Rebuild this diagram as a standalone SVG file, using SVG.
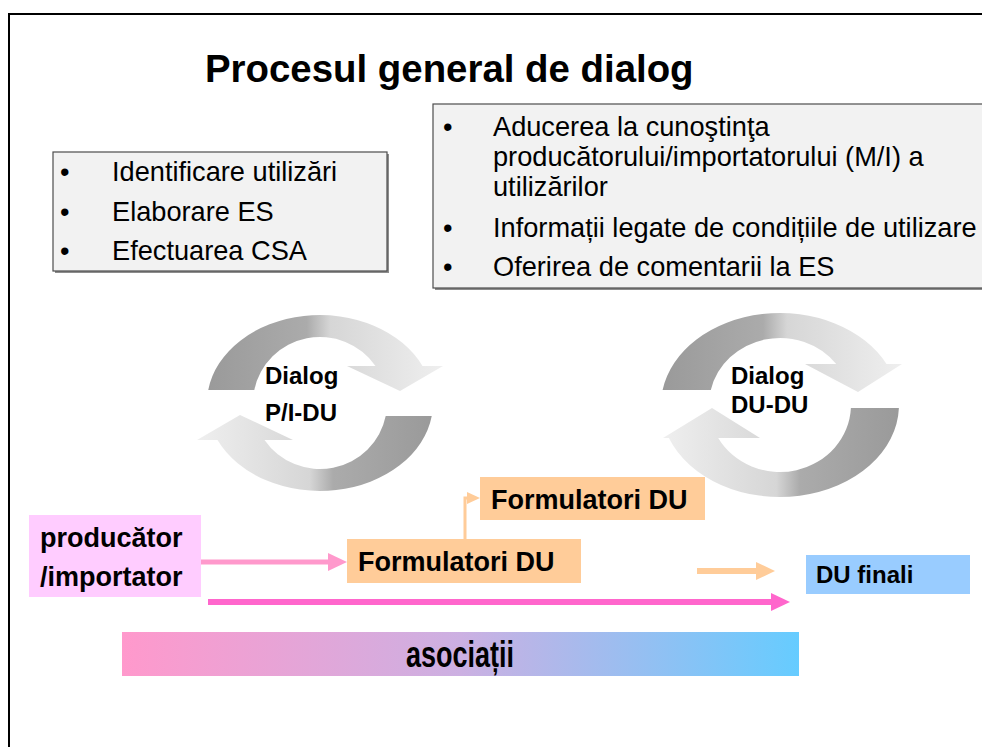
<svg xmlns="http://www.w3.org/2000/svg" width="982" height="747" viewBox="0 0 982 747">
  <defs>
    <style>
      .txt { font-family: "Liberation Sans", Arial, sans-serif; fill: #000; }
      .bold { font-weight: bold; }
      .bullet-box { fill: #f2f2f2; stroke: #4d4d4d; stroke-width: 1.2; }
      .shadow { fill: #8c8c8c; }
      .body { font-size: 27.2px; }
      .label { font-size: 27px; font-weight: bold; }
      .dialog { font-size: 24px; font-weight: bold; }
    </style>
    <!-- shading of the curved arrows: dark at the tail, light at the head -->
    <linearGradient id="gTop" x1="0" y1="0" x2="1" y2="0">
      <stop offset="0" stop-color="#9a9a9a"/>
      <stop offset="0.42" stop-color="#ababab"/>
      <stop offset="0.52" stop-color="#d6d6d6"/>
      <stop offset="1" stop-color="#efefef"/>
    </linearGradient>
    <linearGradient id="gBottom" x1="1" y1="0" x2="0" y2="0">
      <stop offset="0" stop-color="#9a9a9a"/>
      <stop offset="0.42" stop-color="#ababab"/>
      <stop offset="0.52" stop-color="#d6d6d6"/>
      <stop offset="1" stop-color="#efefef"/>
    </linearGradient>
    <linearGradient id="gAssoc" x1="0" y1="0" x2="1" y2="0">
      <stop offset="0" stop-color="#ff99cc"/>
      <stop offset="0.5" stop-color="#ccb0e2"/>
      <stop offset="1" stop-color="#66ccff"/>
    </linearGradient>
  </defs>

  <rect width="982" height="747" fill="#ffffff"/>
  <!-- slide frame -->
  <rect x="9" y="14" width="1000" height="760" fill="none" stroke="#000" stroke-width="2"/>

  <text id="title" class="txt bold" x="205" y="82" font-size="38.4">Procesul general de dialog</text>

  <!-- activities box, left -->
  <g id="box-activities">
    <rect class="shadow" x="55" y="154" width="334" height="119"/>
    <rect class="bullet-box" x="53" y="152" width="334" height="119"/>
    <text class="txt body" x="60" y="181">•</text>
    <text class="txt body" x="112" y="181">Identificare utilizări</text>
    <text class="txt body" x="60" y="221">•</text>
    <text class="txt body" x="112" y="221">Elaborare ES</text>
    <text class="txt body" x="60" y="260">•</text>
    <text class="txt body" x="112" y="260">Efectuarea CSA</text>
  </g>

  <!-- information box, right -->
  <g id="box-information">
    <rect class="shadow" x="435" y="106" width="560" height="184"/>
    <rect class="bullet-box" x="433" y="104" width="560" height="184"/>
    <text class="txt body" x="443" y="136">•</text>
    <text class="txt body" x="493" y="136">Aducerea la cunoştinţa</text>
    <text class="txt body" x="493" y="166">producătorului/importatorului (M/I) a</text>
    <text class="txt body" x="493" y="196">utilizărilor</text>
    <text class="txt body" x="443" y="237">•</text>
    <text class="txt body" x="493" y="237">Informații legate de condițiile de utilizare</text>
    <text class="txt body" x="443" y="276">•</text>
    <text class="txt body" x="493" y="276">Oferirea de comentarii la ES</text>
  </g>

  <!-- dialogue cycle producer/importer - downstream users -->
  <g id="cycle-pi-du">
    <g transform="translate(320,403)">
      <path fill="url(#gTop)" d="M -111.75 -13 A 113 88 0 0 1 102.5 -37 L 123 -37 L 80 -12 L 27 -37 L 55.5 -37 A 67 66 0 0 0 -65.7 -13 Z"/>
      <path fill="url(#gBottom)" d="M 111.75 13 A 113 88 0 0 1 -102.5 37 L -123 37 L -80 12 L -27 37 L -55.5 37 A 67 66 0 0 0 65.7 13 Z"/>
    </g>
    <text class="txt dialog" x="265" y="384">Dialog</text>
    <text class="txt dialog" x="265" y="421">P/I-DU</text>
  </g>

  <!-- dialogue cycle between downstream users -->
  <g id="cycle-du-du">
    <g transform="translate(780,405)">
      <path fill="url(#gTop)" d="M -117.4 -15 A 119 92 0 0 1 106.5 -41 L 122 -41 L 78 -13 L 25 -41 L 56.2 -41 A 71 67 0 0 0 -69.2 -15 Z"/>
      <path fill="url(#gBottom)" d="M 118.9 3 A 119 92 0 0 1 -111.1 33 L -117 33 L -68 3 L -20 33 L -61.8 33 A 71 67 0 0 0 70.9 3 Z"/>
    </g>
    <text class="txt dialog" x="731" y="384">Dialog</text>
    <text class="txt dialog" x="731" y="413">DU-DU</text>
  </g>

  <!-- connectors -->
  <g id="connectors">
    <line x1="201" y1="562" x2="330" y2="562" stroke="#ff99cc" stroke-width="5"/>
    <polygon points="328,553 347,562 328,571" fill="#ff99cc"/>
    <polyline points="465,539 465,498 469,498" fill="none" stroke="#ffcc99" stroke-width="3"/>
    <polygon points="467,492 480,498 467,504" fill="#ffcc99"/>
    <line x1="697" y1="571" x2="758" y2="571" stroke="#ffcc99" stroke-width="6"/>
    <polygon points="756,562 775,571 756,580" fill="#ffcc99"/>
    <line x1="208" y1="602" x2="774" y2="602" stroke="#ff66cc" stroke-width="6"/>
    <polygon points="771,593 790,602 771,611" fill="#ff66cc"/>
  </g>

  <g id="node-producer">
    <rect x="29" y="515" width="172" height="82" fill="#ffccff"/>
    <text class="txt label" x="40" y="547">producător</text>
    <text class="txt label" x="40" y="586">/importator</text>
  </g>

  <g id="node-formulators-1">
    <rect x="347" y="539" width="234" height="44" fill="#ffcc99"/>
    <text class="txt label" x="358" y="571">Formulatori DU</text>
  </g>

  <g id="node-formulators-2">
    <rect x="480" y="477" width="225" height="43" fill="#ffcc99"/>
    <text class="txt label" x="491" y="509">Formulatori DU</text>
  </g>

  <g id="node-end-users">
    <rect x="806" y="555" width="164" height="39" fill="#99ccff"/>
    <text class="txt bold" x="816" y="583" font-size="24">DU finali</text>
  </g>

  <g id="node-associations">
    <rect x="122" y="632" width="677" height="44" fill="url(#gAssoc)"/>
    <text class="txt bold" transform="translate(460,667) scale(0.75,1)" x="0" y="0" font-size="36" text-anchor="middle">asociații</text>
  </g>
</svg>
